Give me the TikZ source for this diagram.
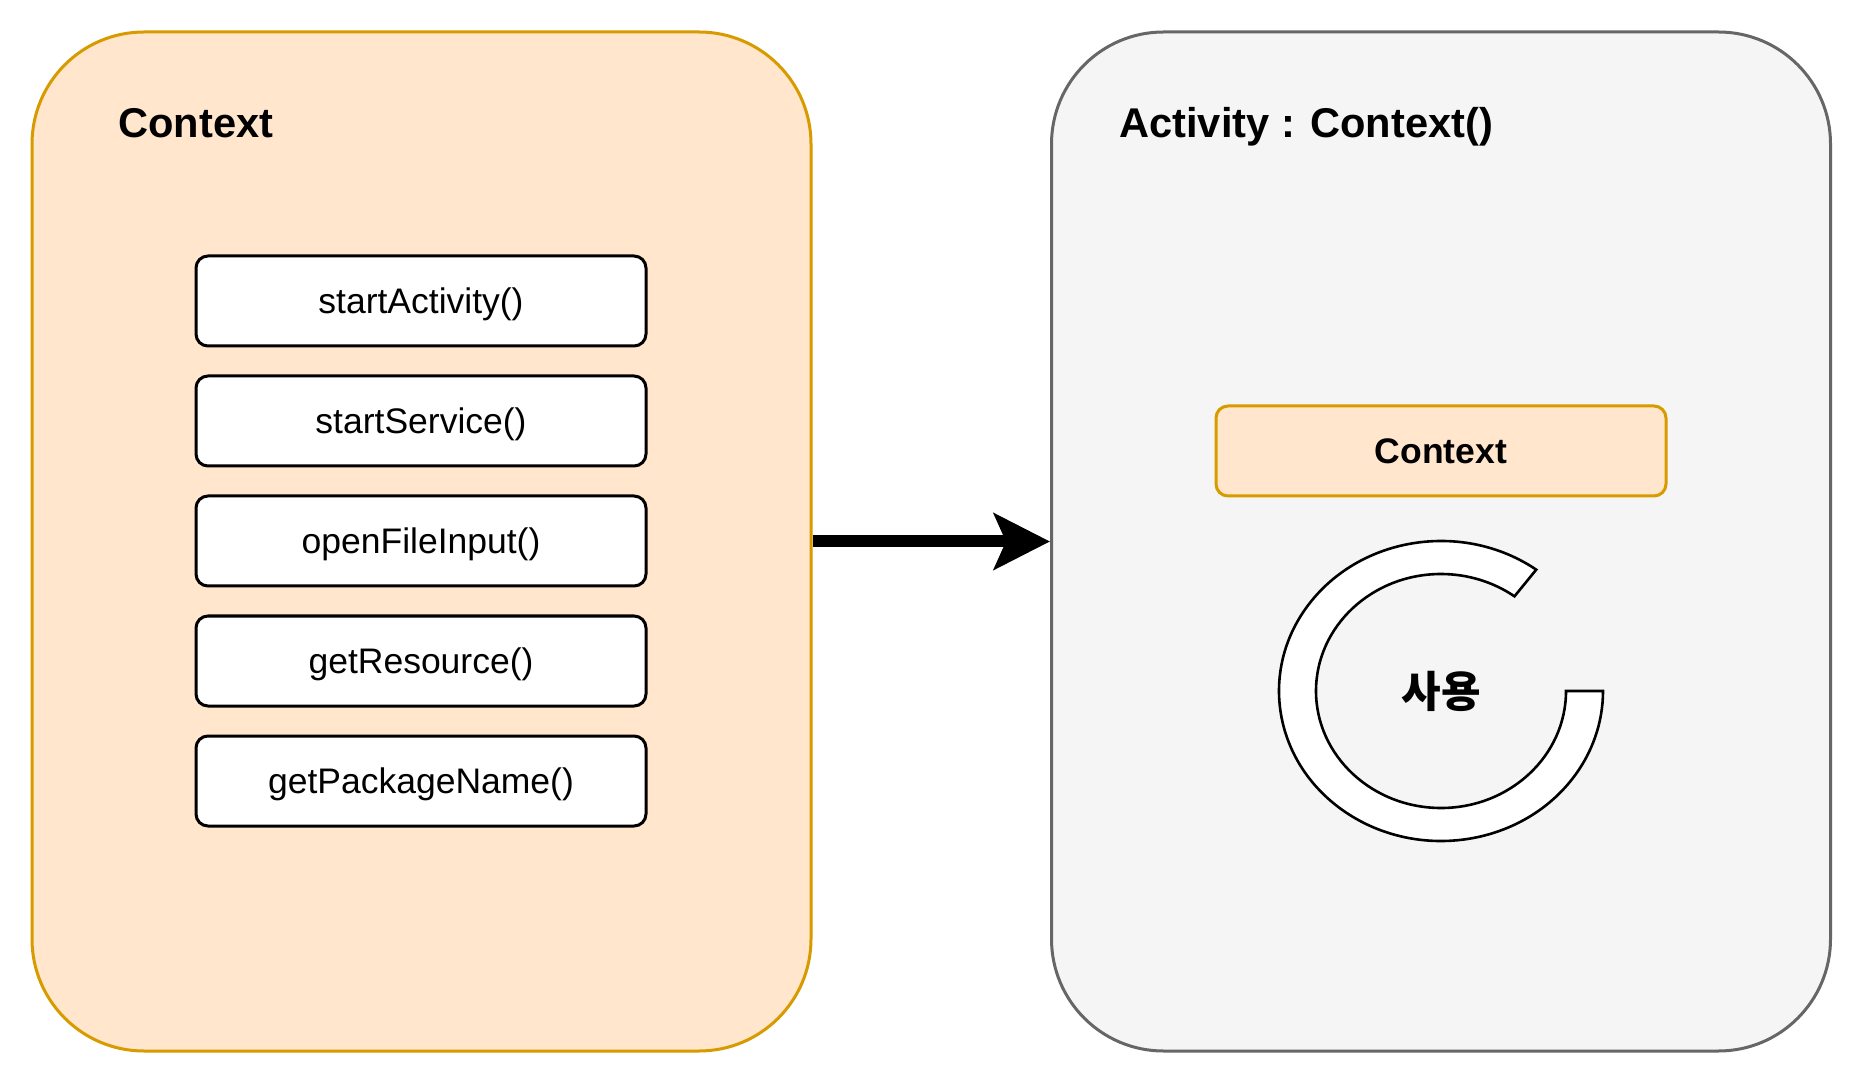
\documentclass[tikz,border=0pt]{standalone}
\usepackage{fontspec}
\setmainfont{Liberation Sans}
\newfontfamily\korfont{Noto Sans CJK KR}
\usetikzlibrary{positioning, arrows.meta, calc}

\definecolor{ctxfill}{HTML}{FFE6CC}
\definecolor{ctxline}{HTML}{D79B00}
\definecolor{actfill}{HTML}{F5F5F5}
\definecolor{actline}{HTML}{666666}

\begin{document}
\begin{tikzpicture}[
    x=0.5pt, y=0.5pt,
    panel/.style={draw, rectangle, rounded corners=56pt, line width=1.5pt, minimum width=389.5pt, minimum height=509.5pt},
    title/.style={anchor=base west, inner sep=0pt, font=\fontsize{20.8pt}{24pt}\selectfont\bfseries},
    method/.style={draw, rectangle, rounded corners=6pt, line width=1.5pt, fill=white, minimum width=225pt, minimum height=45pt, text depth=0pt, align=center, font=\fontsize{17.75pt}{21pt}\selectfont},
    ring/.style={draw, line width=1.3pt, fill=white}
]
    \useasboundingbox[fill=white] (0,0) rectangle (1863,1083);

    % ================= PANELS =================
    \node[panel, fill=ctxfill, draw=ctxline] (CTX) at (421.5, 541.5) {};
    \node[panel, fill=actfill, draw=actline] (ACT) at (1441, 541.5) {};

    \node[title] (ctx_title) at (118, 945) {Context};
    \node[title] (act_title) at (1119, 945) {Activity : Context()};

    % ================= CONTEXT METHODS =================
    \node[method] (m_start) at (421, 782) {startActivity()};
    \node[method] (m_service) at (421, 662) {startService()};
    \node[method] (m_file) at (421, 542) {openFileInput()};
    \node[method] (m_res) at (421, 422) {getResource()};
    \node[method] (m_pkg) at (421, 302) {getPackageName()};

    % ================= ACTIVITY CONTENT =================
    \node[method, fill=ctxfill, draw=ctxline, font=\fontsize{17.75pt}{21pt}\selectfont\bfseries] (a_ctx) at (1441, 632) {Context};

    % --- usage ring ---
    \coordinate (ringc) at (1441, 392);
    \draw[ring] ([shift={(54:162 and 150)}]ringc)
        arc[start angle=54, end angle=360, x radius=81pt, y radius=75pt]
        -- ++(-37, 0)
        arc[start angle=360, end angle=54, x radius=62.5pt, y radius=58.5pt]
        -- cycle;
    \node[font=\fontsize{21.5pt}{24pt}\korfont\bfseries] (use) at (ringc) {사용};

    % ================= CONNECTION =================
    \draw[line width=6pt, -{Stealth[length=28pt, width=28pt, inset=6pt]}] (CTX.east) -- (ACT.west);

\end{tikzpicture}
\end{document}
